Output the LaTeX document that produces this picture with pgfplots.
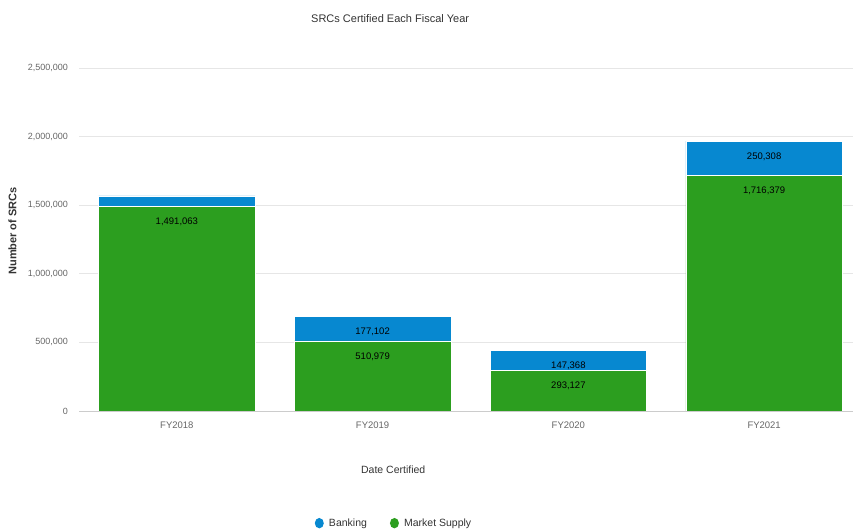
\documentclass[border=0pt]{standalone}
\usepackage{pgfplots}
\usepackage{pgfplotstable}
\usepackage{fontspec}
\setmainfont{Liberation Sans}
\pgfplotsset{compat=1.18}

\definecolor{bankblue}{HTML}{0788D0}
\definecolor{supplygreen}{HTML}{2C9E1F}
\definecolor{gridgray}{HTML}{E6E6E6}
\definecolor{axisgray}{HTML}{CCCCCC}
\definecolor{ticktext}{HTML}{666666}
\definecolor{titletext}{HTML}{333333}

% fiscal year index, market supply, banking, and their printed labels
\pgfplotstableread{
x supply slabel     bank   blabel
0 1491063 1,491,063 76000  {}
1 510979  510,979   177102 177,102
2 293127  293,127   147368 147,368
3 1716379 1,716,379 250308 250,308
}\srcdata

\pgfplotsset{
  frame/.style={
    at={(79bp,120bp)}, anchor=south west,
    scale only axis, width=774bp, height=343bp,
    xmin=-0.5, xmax=3.454, ymin=0, ymax=2500000,
  },
  seglabel/.style={
    only marks, mark=none,
    nodes near coords, point meta=explicit symbolic,
    every node near coord/.append style={anchor=center, yshift=-15.5bp, text=black,
      font=\fontsize{9.5bp}{11bp}\selectfont},
  },
}

\begin{document}
\begin{tikzpicture}
\path[use as bounding box] (0,0) rectangle (853bp,531bp);
\begin{axis}[
  frame,
  ybar stacked, bar width=0.8,
  ytick={0,500000,1000000,1500000,2000000,2500000},
  scaled y ticks=false,
  /pgf/number format/.cd, fixed, 1000 sep={,}, assume math mode=true, /pgfplots/.cd,
  ymajorgrids, grid style={gridgray, line width=0.6bp},
  axis lines*=left,
  y axis line style={draw=none},
  x axis line style={axisgray, line width=1bp},
  ytick style={draw=none},
  xtick={0,1,2,3},
  xticklabels={FY2018,FY2019,FY2020,FY2021},
  xtick style={draw=none},
  extra x ticks={-0.5,0.5,1.5,2.5},
  extra x tick labels={\empty,\empty,\empty,\empty},
  extra x tick style={tick style={draw=axisgray, line width=0.6bp}, tick align=outside, major tick length=6bp, grid=none},
  xticklabel style={anchor=center, yshift=-14bp, font=\fontsize{9.5bp}{11bp}\selectfont, text=ticktext},
  yticklabel style={anchor=east, inner sep=0pt, xshift=-11bp, font=\fontsize{9bp}{11bp}\selectfont, text=ticktext},
  title={SRCs Certified Each Fiscal Year},
  title style={at={(axis description cs:0.402,1.1256)}, anchor=center, font=\fontsize{11bp}{13bp}\selectfont, text=titletext},
  xlabel={Date Certified},
  xlabel style={at={(axis description cs:0.406,-0.172)}, anchor=center, font=\fontsize{10.5bp}{12bp}\selectfont, text=titletext},
  ylabel={Number of SRCs},
  ylabel style={at={(axis description cs:-0.0859,0.525)}, anchor=center, font=\fontsize{11bp}{13bp}\selectfont\bfseries, text=titletext},
  legend columns=2,
  legend style={at={(axis description cs:0.407,-0.327)}, anchor=center, draw=none, fill=none,
    font=\fontsize{10.5bp}{12bp}\selectfont, text=titletext,
    /tikz/every even column/.append style={column sep=21bp}},
  legend image code/.code={%
    \path[draw=none, fill=none] (0bp,-0.1bp) rectangle (12.2bp,0.1bp);
    \fill[#1, draw=none] (4.5bp,0bp) ellipse (4.5bp and 5.2bp);},
]
\addlegendimage{fill=bankblue}
\addlegendentry{Banking}
\addlegendimage{fill=supplygreen}
\addlegendentry{Market Supply}
\addplot[fill=supplygreen, draw=white, line width=0.6bp, forget plot]
  table[x=x, y=supply] {\srcdata};
\addplot[fill=bankblue, draw=white, line width=0.6bp, forget plot]
  table[x=x, y=bank] {\srcdata};
\end{axis}
% value labels, hung just below the top of each segment
\begin{axis}[frame, hide axis]
\addplot[seglabel] table[x=x, y=supply, meta=slabel] {\srcdata};
\addplot[seglabel] table[x=x, y expr=\thisrow{supply}+\thisrow{bank}, meta=blabel] {\srcdata};
\end{axis}
\end{tikzpicture}
\end{document}
